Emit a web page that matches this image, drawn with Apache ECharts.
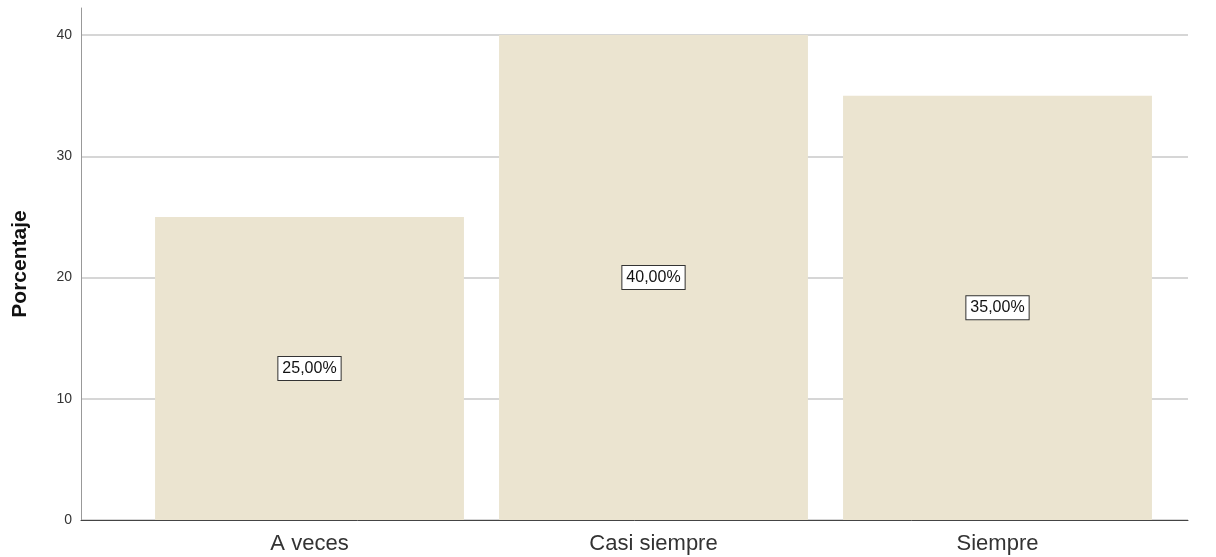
<!DOCTYPE html>
<html>
<head>
<meta charset="utf-8">
<script src="https://cdn.jsdelivr.net/npm/echarts@6/dist/echarts.min.js"></script>
<style>
html,body{margin:0;padding:0;background:#fff;}
#c{width:1216px;height:557px;}
</style>
</head>
<body>
<div id="c"></div>
<script>
const categories = ['A veces', 'Casi siempre', 'Siempre'];
const values = [25, 40, 35];
const labels = ['25,00%', '40,00%', '35,00%'];
const yTicks = [0, 10, 20, 30, 40];

const FONT = '"Liberation Sans", Arial, sans-serif';
const chart = echarts.init(document.getElementById('c'), null, {renderer: 'canvas'});
const yMax = yTicks[yTicks.length - 1];
const yTop = 42.23;

chart.setOption({
  animation: false,
  backgroundColor: '#ffffff',
  grid: [
    {left: 81, right: 28, top: 8, bottom: 37},
    {left: 81, right: 28, top: 35, bottom: 37},
    {left: 137.5, right: 46.5, top: 35, bottom: 37}
  ],
  xAxis: [
    {gridIndex: 0, type: 'category', data: categories, axisLine: {show: true, lineStyle: {color: '#444', width: 1}},
     axisTick: {show: false}, axisLabel: {show: false}, splitLine: {show: false}},
    {gridIndex: 1, type: 'category', data: categories, show: false},
    {gridIndex: 2, type: 'category', data: categories, axisLine: {show: false}, axisTick: {show: false},
     axisLabel: {show: true, color: '#333', fontSize: 22, fontFamily: FONT, margin: 13}}
  ],
  yAxis: [
    {gridIndex: 0, type: 'value', min: 0, max: yTop, axisLine: {show: true, lineStyle: {color: '#999', width: 1}},
     axisTick: {show: false}, axisLabel: {show: false}, splitLine: {show: false},
     name: 'Porcentaje', nameLocation: 'middle', nameGap: 50, nameRotate: 90,
     nameTextStyle: {color: '#111', fontSize: 21, fontWeight: 'bold', fontFamily: FONT}},
    {gridIndex: 1, type: 'value', min: 0, max: yMax, interval: 10, axisLine: {show: false}, axisTick: {show: false},
     axisLabel: {show: true, color: '#333', fontSize: 14, fontFamily: FONT, margin: 9},
     splitLine: {show: true, lineStyle: {color: '#c8c8c8', width: 1.5}}},
    {gridIndex: 2, type: 'value', min: 0, max: yMax, show: false}
  ],
  series: [
    {
      type: 'bar', xAxisIndex: 2, yAxisIndex: 2,
      data: values,
      barCategoryGap: '10.2%',
      itemStyle: {color: '#ebe4d0'},
      label: {
        show: true, position: 'inside',
        formatter: (p) => labels[p.dataIndex],
        color: '#111', fontSize: 16, fontFamily: FONT,
        backgroundColor: '#ffffff', borderColor: '#333', borderWidth: 1,
        padding: [4, 4, 3, 4]
      }
    }
  ]
});
</script>
</body>
</html>
